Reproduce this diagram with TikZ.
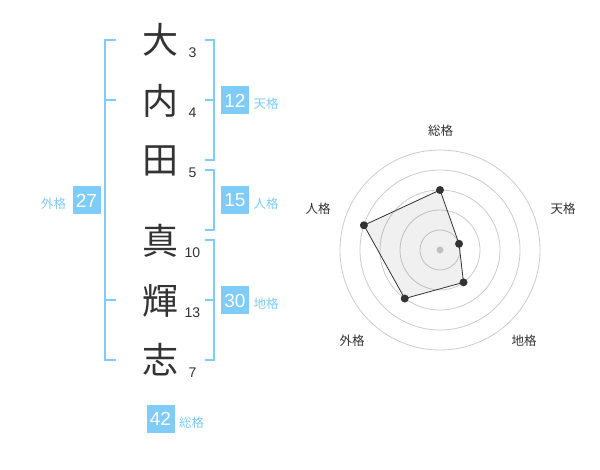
\documentclass[tikz,border=0pt]{standalone}
\usepackage{fontspec}
\setmainfont{Liberation Sans}
\newfontfamily\jp{Noto Sans CJK JP}
\definecolor{sky}{HTML}{80CCF8}
\definecolor{ink}{HTML}{333333}
\definecolor{ring}{HTML}{CCCCCC}
\begin{document}
\begin{tikzpicture}[x=1pt,y=-1pt,
  kanji/.style={font=\jp\fontsize{36}{36}\selectfont, text=ink, inner sep=0pt},
  stroke/.style={font=\fontsize{14}{14}\selectfont, text=ink, inner sep=0pt},
  scorebox/.style={fill=sky, text=white, minimum size=28pt, inner sep=0pt, font=\fontsize{19}{19}\selectfont},
  scorelab/.style={font=\jp\fontsize{12.5}{12.5}\selectfont, text=sky, inner sep=0pt},
  bracket/.style={draw=sky, line width=2pt},
  axislab/.style={font=\jp\fontsize{12.5}{12.5}\selectfont, text=ink, inner sep=0pt},
  ringline/.style={draw=ring, line width=0.8pt},
  vdot/.style={circle, fill=ink, inner sep=0pt, minimum size=8pt}]
\useasboundingbox[fill=white] (0,0) rectangle (600,470);
% kanji
\node[kanji] (k1) at (160,40) {大};
\node[kanji] (k2) at (160,101) {内};
\node[kanji] (k3) at (160,161) {田};
\node[kanji] (k4) at (160,241) {真};
\node[kanji] (k5) at (160,301) {輝};
\node[kanji] (k6) at (160,360) {志};
% strokes
\node[stroke] (s1) at (192.5,53) {3};
\node[stroke] (s2) at (192.5,113) {4};
\node[stroke] (s3) at (192.5,173) {5};
\node[stroke] (s4) at (192.5,253) {10};
\node[stroke] (s5) at (192.5,313) {13};
\node[stroke] (s6) at (192.5,373) {7};
% brackets
\draw[bracket] (116,40) -- (105,40) -- (105,360) -- (116,360);
\draw[bracket] (105,100) -- (116,100);
\draw[bracket] (105,300) -- (116,300);
\draw[bracket] (205,40) -- (214,40) -- (214,160) -- (205,160);
\draw[bracket] (205,100) -- (214,100);
\draw[bracket] (205,170) -- (214,170) -- (214,230) -- (205,230);
\draw[bracket] (205,240) -- (214,240) -- (214,360) -- (205,360);
\draw[bracket] (205,300) -- (214,300);
% score boxes
\node[scorebox] (b12) at (235,100.5) {12};
\node[scorelab] (l12) at (266,103.5) {天格};
\node[scorebox] (b15) at (235,200.5) {15};
\node[scorelab] (l15) at (266,203.5) {人格};
\node[scorebox] (b30) at (235,300.5) {30};
\node[scorelab] (l30) at (266,303.5) {地格};
\node[scorebox] (b27) at (86.5,200.5) {27};
\node[scorelab] (l27) at (53.5,203.5) {外格};
\node[scorebox] (b42) at (160.5,419) {42};
\node[scorelab] (l42) at (191.5,422.5) {総格};
% radar
\begin{scope}[shift={(440,250)}, yscale=-1]
  \foreach \r in {20,40,60,80,100} \draw[ringline] (0,0) circle (\r);
  \fill[ring] (0,0) circle (3.5);
  \coordinate (p1) at (90:60);
  \coordinate (p2) at (18:20);
  \coordinate (p3) at (-54:40);
  \coordinate (p4) at (234:60);
  \coordinate (p5) at (162:80);
  \fill[black, fill opacity=0.06] (p1) -- (p2) -- (p3) -- (p4) -- (p5) -- cycle;
  \draw[ink, line width=0.8pt] (p1) -- (p2) -- (p3) -- (p4) -- (p5) -- cycle;
  \foreach \p in {p1,p2,p3,p4,p5} \node[vdot] at (\p) {};
\end{scope}
\node[axislab] (a1) at (440.5,130.5) {総格};
\node[axislab] (a2) at (563,209) {天格};
\node[axislab] (a3) at (524,341) {地格};
\node[axislab] (a4) at (352,341) {外格};
\node[axislab] (a5) at (318,209) {人格};
\end{tikzpicture}
\end{document}
